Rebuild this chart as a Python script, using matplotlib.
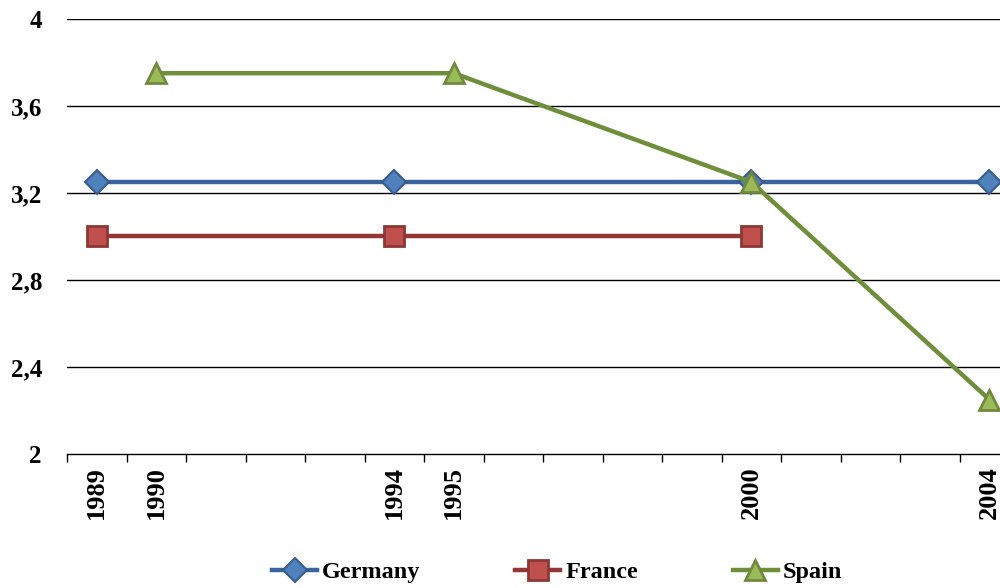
import matplotlib.pyplot as plt
import numpy as np

# series values
germany_years = [1989, 1994, 2000, 2004]
germany_vals = [3.25, 3.25, 3.25, 3.25]
france_years = [1989, 1994, 2000]
france_vals = [3.0, 3.0, 3.0]
spain_years = [1990, 1995, 2000, 2004]
spain_vals = [3.75, 3.75, 3.25, 2.25]

label_years = [1989, 1990, 1994, 1995, 2000, 2004]
y_ticks = [2, 2.4, 2.8, 3.2, 3.6, 4]

plt.rcParams["font.family"] = ["Liberation Serif", "DejaVu Serif"]
plt.rcParams["font.weight"] = "bold"

fig = plt.figure(figsize=(10, 5.88), dpi=100)
ax = fig.add_axes([0.067, 0.228, 0.933, 0.74])

for y in y_ticks[1:]:
    ax.axhline(y, color="black", linewidth=1.0, zorder=1)

ax.plot(germany_years, germany_vals, color="#3A63A0", linewidth=3.2,
        marker="D", markersize=12, markerfacecolor="#4F81BD",
        markeredgecolor="#385D8A", markeredgewidth=1.5, clip_on=False,
        zorder=3, label="Germany")
ax.plot(france_years, france_vals, color="#933634", linewidth=3.2,
        marker="s", markersize=14.5, markerfacecolor="#C0504D",
        markeredgecolor="#8C3836", markeredgewidth=2, clip_on=False,
        zorder=3, label="France")
ax.plot(spain_years, spain_vals, color="#6F8E3A", linewidth=3.2,
        marker="^", markersize=15, markerfacecolor="#9BBB59",
        markeredgecolor="#71893F", markeredgewidth=2, clip_on=False,
        zorder=4, label="Spain")

ax.set_xlim(1988.5, 2004.18)
ax.set_ylim(2, 4)

ax.set_yticks(y_ticks)
ax.set_yticklabels([f"{v:g}".replace(".", ",") for v in y_ticks],
                   fontsize=18, fontweight="bold")
ax.tick_params(axis="y", length=0, pad=18)

ax.set_xticks(label_years)
ax.set_xticklabels([str(y) for y in label_years], rotation=90,
                   fontsize=19, fontweight="bold", va="top")
ax.set_xticks(np.arange(1988.5, 2004.2, 1), minor=True)
ax.tick_params(axis="x", which="major", length=0, pad=9)
ax.tick_params(axis="x", which="minor", length=6, width=1, direction="out")

for side in ["left", "right", "top"]:
    ax.spines[side].set_visible(False)
ax.spines["bottom"].set_linewidth(1.0)

handles, labels = ax.get_legend_handles_labels()
fig.legend(handles, labels, loc="center", bbox_to_anchor=(0.557, 0.027),
           ncol=3, frameon=False, handlelength=1.85, columnspacing=3.9,
           handletextpad=0.2, prop={"size": 17.5, "weight": "bold"})

fig.savefig("out.png", dpi=100)
